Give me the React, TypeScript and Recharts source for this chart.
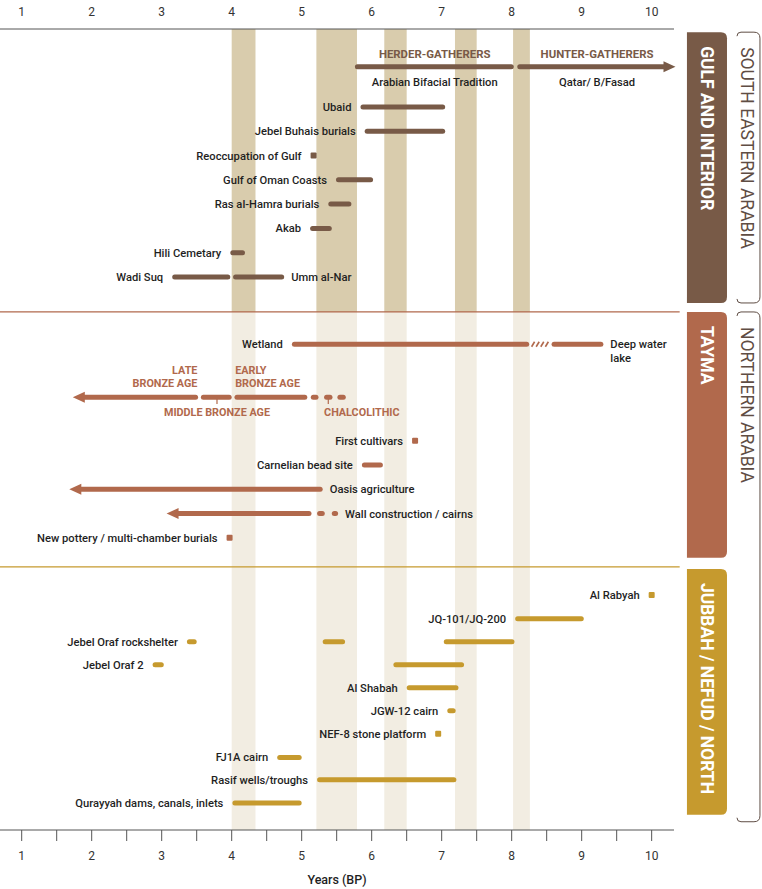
import React from "react";
import {
  ComposedChart,
  XAxis,
  YAxis,
  Scatter,
  ReferenceArea,
  ReferenceLine,
  ReferenceDot,
} from "recharts";

const GULF = "#785a47";
const TAYMA = "#b1694c";
const JUBBAH = "#c69a2e";
const BAND_DARK = "#d9ccad";
const BAND_LIGHT = "#f2ede2";
const INK = "#1f1f1f";
const AXIS = "#555555";
const BRACKET = "#5f4d44";
const FONT = "Roboto, 'Liberation Sans', sans-serif";

// x domain (years BP, thousands) and y domain (rows)
const X_DOMAIN = [0.69, 10.319];
const Y_DOMAIN = [0.12, 33.1];

const axisTicks = [1, 1.5, 2, 2.5, 3, 3.5, 4, 4.5, 5, 5.5, 6, 6.5, 7, 7.5, 8, 8.5, 9, 9.5, 10];
const axisLabels = [1, 2, 3, 4, 5, 6, 7, 8, 9, 10];
const TOP_LABEL_ROW = -0.58;

// shaded climate bands
const bands = [
  { from: 4.0, to: 4.34 },
  { from: 5.21, to: 5.79 },
  { from: 6.18, to: 6.5 },
  { from: 7.19, to: 7.5 },
  { from: 8.02, to: 8.26 },
];

type Seg = {
  label?: string;
  side?: "left" | "right";
  row: number;
  start: number;
  end: number;
  arrow?: "left" | "right";
  dot?: boolean;
  hatch?: boolean;
};

type Note = { text: string; x: number; row: number; anchor: "start" | "middle" | "end"; caps?: boolean };

// --- GULF AND INTERIOR ---
const gulfRows: Seg[] = [
  { row: 1.675, start: 5.76, end: 8.03 },
  { row: 1.675, start: 8.08, end: 10.34, arrow: "right" },
  { label: "Ubaid", side: "left", row: 3.33, start: 5.84, end: 7.05 },
  { label: "Jebel Buhais burials", side: "left", row: 4.33, start: 5.9, end: 7.05 },
  { label: "Reoccupation of Gulf", side: "left", row: 5.33, start: 5.17, end: 5.17, dot: true },
  { label: "Gulf of Oman Coasts", side: "left", row: 6.33, start: 5.49, end: 6.02 },
  { label: "Ras al-Hamra burials", side: "left", row: 7.33, start: 5.38, end: 5.71 },
  { label: "Akab", side: "left", row: 8.33, start: 5.12, end: 5.43 },
  { label: "Hili Cemetary", side: "left", row: 9.33, start: 3.98, end: 4.19 },
  { label: "Wadi Suq", side: "left", row: 10.33, start: 3.15, end: 3.98 },
  { label: "Umm al-Nar", side: "right", row: 10.33, start: 4.02, end: 4.75 },
];

const gulfNotes: Note[] = [
  { text: "HERDER-GATHERERS", x: 6.9, row: 1.15, anchor: "middle", caps: true },
  { text: "HUNTER-GATHERERS", x: 9.22, row: 1.15, anchor: "middle", caps: true },
  { text: "Arabian Bifacial Tradition", x: 6.9, row: 2.29, anchor: "middle" },
  { text: "Qatar/ B/Fasad", x: 9.22, row: 2.29, anchor: "middle" },
];

// --- TAYMA ---
const taymaRows: Seg[] = [
  { label: "Wetland", side: "left", row: 13.1, start: 4.86, end: 8.25 },
  { row: 13.1, start: 8.27, end: 8.57, hatch: true },
  { label: "Deep water|lake", side: "right", row: 13.1, start: 8.57, end: 9.31 },
  { row: 15.28, start: 1.73, end: 3.52, arrow: "left" },
  { row: 15.28, start: 3.56, end: 4.0 },
  { row: 15.28, start: 4.04, end: 5.08 },
  { row: 15.28, start: 5.13, end: 5.24 },
  { row: 15.28, start: 5.32, end: 5.44 },
  { row: 15.28, start: 5.51, end: 5.63 },
  { label: "First cultivars", side: "left", row: 17.07, start: 6.62, end: 6.62, dot: true },
  { label: "Carnelian bead site", side: "left", row: 18.07, start: 5.86, end: 6.16 },
  { label: "Oasis agriculture", side: "right", row: 19.07, start: 1.68, end: 5.3, arrow: "left" },
  { row: 20.07, start: 3.07, end: 5.14, arrow: "left" },
  { row: 20.07, start: 5.22, end: 5.33 },
  { label: "Wall construction / cairns", side: "right", row: 20.07, start: 5.43, end: 5.52 },
  { label: "New pottery / multi-chamber burials", side: "left", row: 21.07, start: 3.97, end: 3.97, dot: true },
];

const bronzeTicks = [3.79, 5.38];

const taymaNotes: Note[] = [
  { text: "LATE", x: 3.51, row: 14.18, anchor: "end", caps: true },
  { text: "BRONZE AGE", x: 3.51, row: 14.72, anchor: "end", caps: true },
  { text: "EARLY", x: 4.05, row: 14.18, anchor: "start", caps: true },
  { text: "BRONZE AGE", x: 4.05, row: 14.72, anchor: "start", caps: true },
  { text: "MIDDLE BRONZE AGE", x: 3.79, row: 15.9, anchor: "middle", caps: true },
  { text: "CHALCOLITHIC", x: 5.32, row: 15.9, anchor: "start", caps: true },
];

// --- JUBBAH / NEFUD / NORTH ---
const jubbahRows: Seg[] = [
  { label: "Al Rabyah", side: "left", row: 23.42, start: 10.0, end: 10.0, dot: true },
  { label: "JQ-101/JQ-200", side: "left", row: 24.4, start: 8.05, end: 9.03 },
  { label: "Jebel Oraf rockshelter", side: "left", row: 25.35, start: 3.36, end: 3.5 },
  { row: 25.35, start: 5.3, end: 5.62 },
  { row: 25.35, start: 7.03, end: 8.04 },
  { label: "Jebel Oraf 2", side: "left", row: 26.3, start: 2.87, end: 3.03 },
  { row: 26.3, start: 6.31, end: 7.32 },
  { label: "Al Shabah", side: "left", row: 27.24, start: 6.5, end: 7.24 },
  { label: "JGW-12 cairn", side: "left", row: 28.19, start: 7.08, end: 7.2 },
  { label: "NEF-8 stone platform", side: "left", row: 29.14, start: 6.95, end: 6.95, dot: true },
  { label: "FJ1A cairn", side: "left", row: 30.11, start: 4.65, end: 5.0 },
  { label: "Rasif wells/troughs", side: "left", row: 31.03, start: 5.22, end: 7.21 },
  { label: "Qurayyah dams, canals, inlets", side: "left", row: 31.99, start: 4.01, end: 5.0 },
];

const dividers = [
  { row: 11.77, color: TAYMA },
  { row: 22.27, color: JUBBAH },
];

const panels = [
  { name: "GULF AND INTERIOR", color: GULF, top: 0.25, bottom: 11.4 },
  { name: "TAYMA", color: TAYMA, top: 11.77, bottom: 21.89 },
  { name: "JUBBAH / NEFUD / NORTH", color: JUBBAH, top: 22.35, bottom: 32.47 },
];

const regions = [
  { name: "SOUTH EASTERN ARABIA", top: 0.25, bottom: 11.4 },
  { name: "NORTHERN ARABIA", top: 11.77, bottom: 32.76 },
];

const PANEL_X = [10.504, 11.076];
const BRACKET_X = [11.219, 11.547];

const anchorPoints = [...gulfRows, ...taymaRows, ...jubbahRows].map((s) => ({ x: s.start, y: s.row }));

const LABEL_SIZE = 11.2;

const segShape = (s: Seg, color: string) => (p: any) => {
  const x1 = Math.min(p.x1, p.x2);
  const x2 = Math.max(p.x1, p.x2);
  const y = p.y1;
  const h = 5;
  const parts: React.ReactNode[] = [];
  let left = x1;
  let right = x2;
  if (s.dot) {
    parts.push(<rect key="d" x={x1 - 3} y={y - 3} width={6} height={6} rx={1} fill={color} />);
    left = x1 - 3;
    right = x1 + 3;
  } else if (s.hatch) {
    for (let k = x1 + 1; k + 3 <= x2; k += 4.6) {
      parts.push(
        <line key={"h" + k} x1={k} y1={y + 2.5} x2={k + 3} y2={y - 2.5} stroke={color} strokeWidth={1.6} />
      );
    }
  } else {
    let a = x1 + h / 2;
    let b = x2 - h / 2;
    if (s.arrow === "left") {
      parts.push(<polygon key="al" points={`${x1},${y} ${x1 + 12},${y - 5.5} ${x1 + 12},${y + 5.5}`} fill={color} />);
      a = x1 + 11;
    }
    if (s.arrow === "right") {
      parts.push(<polygon key="ar" points={`${x2},${y} ${x2 - 12},${y - 5.5} ${x2 - 12},${y + 5.5}`} fill={color} />);
      b = x2 - 11;
    }
    if (b < a) {
      const m = (a + b) / 2;
      a = m;
      b = m;
    }
    parts.push(
      <line key="l" x1={a} y1={y} x2={b} y2={y} stroke={color} strokeWidth={h} strokeLinecap="round" />
    );
  }
  if (s.label) {
    const lines = s.label.split("|");
    const tx = s.side === "left" ? left - 9 : right + 7;
    parts.push(
      <text
        key="t"
        x={tx}
        y={y}
        textAnchor={s.side === "left" ? "end" : "start"}
        fill={INK}
        fontSize={LABEL_SIZE}
        fontWeight={500}
        fontFamily={FONT}
      >
        {lines.map((ln, i) => (
          <tspan key={i} x={tx} dy={i === 0 ? "0.36em" : 14}>
            {ln}
          </tspan>
        ))}
      </text>
    );
  }
  return <g>{parts}</g>;
};

const noteShape = (n: Note, color: string, capsSize: number) => (p: any) => (
  <text
    x={p.cx}
    y={p.cy}
    dy="0.36em"
    textAnchor={n.anchor}
    fill={n.caps ? color : INK}
    fontSize={n.caps ? capsSize : LABEL_SIZE}
    fontWeight={n.caps ? 700 : 500}
    fontFamily={FONT}
  >
    {n.text}
  </text>
);

const axisLabelShape = (v: number) => (p: any) => (
  <text x={p.cx} y={p.cy} dy="0.36em" textAnchor="middle" fill="#333" fontSize={12} fontFamily={FONT}>
    {v}
  </text>
);

const panelShape = (name: string, color: string) => (p: any) => {
  const { x, y, width, height } = p;
  const r = 6;
  const d = `M${x},${y} H${x + width - r} Q${x + width},${y} ${x + width},${y + r} V${y + height - r} Q${x + width},${y + height} ${x + width - r},${y + height} H${x} Z`;
  const cx = x + width / 2;
  const ty = y + 14;
  return (
    <g>
      <path d={d} fill={color} />
      <text
        x={cx}
        y={ty}
        transform={`rotate(90, ${cx}, ${ty})`}
        dy="0.36em"
        fill="#ffffff"
        fontSize={17.5}
        fontWeight={700}
        fontFamily={FONT}
      >
        {name}
      </text>
    </g>
  );
};

const bracketShape = (name: string) => (p: any) => {
  const { x, y, width, height } = p;
  const x2 = x + width;
  const y2 = y + height;
  const d = `M${x},${y + 4} Q${x},${y} ${x + 4},${y} H${x2 - 6} Q${x2},${y} ${x2},${y + 6} V${y2 - 6} Q${x2},${y2} ${x2 - 6},${y2} H${x + 4} Q${x},${y2} ${x},${y2 - 4}`;
  const cx = x + width / 2 - 1;
  const ty = y + 15;
  return (
    <g>
      <path d={d} fill="none" stroke={BRACKET} strokeWidth={1} />
      <text
        x={cx}
        y={ty}
        transform={`rotate(90, ${cx}, ${ty})`}
        dy="0.36em"
        fill={BRACKET}
        fontSize={17.5}
        fontWeight={400}
        fontFamily={FONT}
      >
        {name}
      </text>
    </g>
  );
};

const BottomTick = (p: any) => (
  <text x={p.x} y={p.y} dy="0.71em" textAnchor="middle" fill="#333" fontSize={12} fontFamily={FONT}>
    {Number.isInteger(p.payload.value) ? p.payload.value : ""}
  </text>
);

const EmptyTick = () => <g />;

const renderSegs = (rows: Seg[], color: string, key: string) =>
  rows.map((s, i) => (
    <ReferenceLine
      key={key + i}
      segment={[
        { x: s.start, y: s.row },
        { x: s.end, y: s.row },
      ]}
      ifOverflow="visible"
      shape={segShape(s, color)}
    />
  ));

const renderNotes = (notes: Note[], color: string, key: string, capsSize: number) =>
  notes.map((n, i) => (
    <ReferenceDot
      key={key + i}
      x={n.x}
      y={n.row}
      r={0}
      ifOverflow="visible"
      shape={noteShape(n, color, capsSize)}
    />
  ));

export default function App() {
  return (
    <div style={{ position: "absolute", left: 0, top: 0, background: "#fff" }}>
      <ComposedChart width={762} height={889} margin={{ top: 0, right: 88, bottom: 0, left: 0 }}>
        <XAxis
          xAxisId={0}
          type="number"
          dataKey="x"
          domain={X_DOMAIN}
          allowDataOverflow
          ticks={axisTicks}
          interval={0}
          orientation="bottom"
          height={59}
          tickSize={11}
          tickMargin={10}
          stroke={AXIS}
          tick={<BottomTick />}
          label={{ value: "Years (BP)", position: "insideBottom", offset: 5, fill: INK, fontSize: 12.5, fontWeight: 500, fontFamily: FONT }}
        />
        <XAxis
          xAxisId="top"
          type="number"
          domain={X_DOMAIN}
          allowDataOverflow
          ticks={axisTicks}
          interval={0}
          orientation="top"
          height={29}
          tickSize={9}
          tick={<EmptyTick />}
          stroke={AXIS}
        />
        <YAxis type="number" dataKey="y" domain={Y_DOMAIN} allowDataOverflow reversed hide width={0} />

        {bands.map((b, i) => (
          <ReferenceArea
            key={"bd" + i}
            x1={b.from}
            x2={b.to}
            y1={Y_DOMAIN[0]}
            y2={dividers[0].row}
            fill={BAND_DARK}
            fillOpacity={1}
            stroke="none"
          />
        ))}
        {bands.map((b, i) => (
          <ReferenceArea
            key={"bl" + i}
            x1={b.from}
            x2={b.to}
            y1={dividers[0].row}
            y2={Y_DOMAIN[1]}
            fill={BAND_LIGHT}
            fillOpacity={1}
            stroke="none"
          />
        ))}

        {dividers.map((d, i) => (
          <ReferenceLine
            key={"dv" + i}
            segment={[
              { x: X_DOMAIN[0], y: d.row },
              { x: 10.4, y: d.row },
            ]}
            ifOverflow="visible"
            stroke={d.color}
            strokeWidth={1.2}
          />
        ))}

        {panels.map((p, i) => (
          <ReferenceArea
            key={"pn" + i}
            x1={PANEL_X[0]}
            x2={PANEL_X[1]}
            y1={p.top}
            y2={p.bottom}
            ifOverflow="visible"
            shape={panelShape(p.name, p.color)}
          />
        ))}
        {regions.map((r, i) => (
          <ReferenceArea
            key={"rg" + i}
            x1={BRACKET_X[0]}
            x2={BRACKET_X[1]}
            y1={r.top}
            y2={r.bottom}
            ifOverflow="visible"
            shape={bracketShape(r.name)}
          />
        ))}

        {bronzeTicks.map((t, i) => (
          <ReferenceLine
            key={"bt" + i}
            segment={[
              { x: t, y: 15.28 },
              { x: t, y: 15.56 },
            ]}
            stroke={TAYMA}
            strokeWidth={1.2}
          />
        ))}

        {axisLabels.map((v) => (
          <ReferenceDot key={"al" + v} x={v} y={TOP_LABEL_ROW} r={0} ifOverflow="visible" shape={axisLabelShape(v)} />
        ))}

        {renderSegs(gulfRows, GULF, "g")}
        {renderSegs(taymaRows, TAYMA, "t")}
        {renderSegs(jubbahRows, JUBBAH, "j")}
        {renderNotes(gulfNotes, GULF, "gn", 11.4)}
        {renderNotes(taymaNotes, TAYMA, "tn", 10.8)}

        <Scatter data={anchorPoints} fill="none" isAnimationActive={false} shape={() => <g />} />
      </ComposedChart>
    </div>
  );
}
